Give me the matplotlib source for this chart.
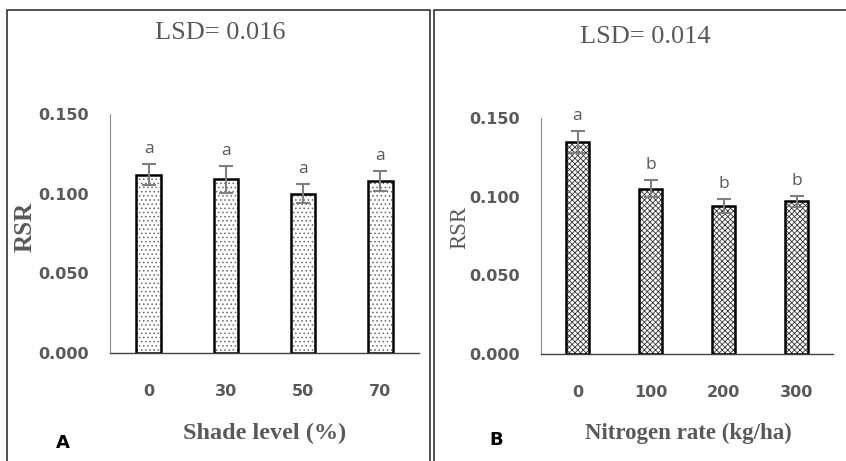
import matplotlib.pyplot as plt
from matplotlib.patches import Rectangle

# panel A: shade level
shade_labels = ['0', '30', '50', '70']
shade_rsr = [0.112, 0.109, 0.100, 0.108]
shade_err = [0.0067, 0.0083, 0.0058, 0.0063]
shade_letters = ['a', 'a', 'a', 'a']

# panel B: nitrogen rate
nitro_labels = ['0', '100', '200', '300']
nitro_rsr = [0.135, 0.105, 0.094, 0.097]
nitro_err = [0.0070, 0.0055, 0.0044, 0.0034]
nitro_letters = ['a', 'b', 'b', 'b']

grey = '#595959'
serif = 'Liberation Serif'

plt.rcParams['hatch.linewidth'] = 0.6


def draw_panel(ax, labels, values, errs, letters, hatch, hatch_color):
    x = range(len(values))
    # hatch layer first, then the black outline on top
    ax.bar(x, values, width=0.32, color='white', edgecolor=hatch_color,
           linewidth=0, hatch=hatch, zorder=2)
    ax.bar(x, values, width=0.32, fill=False, edgecolor='black',
           linewidth=1.8, zorder=2)
    ax.errorbar(x, values, yerr=errs, fmt='none', ecolor='#7f7f7f',
                elinewidth=1.5, capsize=5, capthick=1.5, zorder=3)
    for i, (v, e, t) in enumerate(zip(values, errs, letters)):
        ax.annotate(t, (i, v + e), xytext=(0, 5), textcoords='offset points',
                    ha='center', va='bottom', fontsize=12.5, color=grey,
                    family='Open Sans')
    ax.set_xlim(-0.5, len(values) - 0.5)
    ax.set_ylim(0, 0.150)
    ax.set_yticks([0, 0.05, 0.10, 0.15])
    ax.set_yticklabels(['0.000', '0.050', '0.100', '0.150'])
    ax.set_xticks(list(x))
    ax.set_xticklabels(labels)
    ax.tick_params(length=0, labelsize=11.5, labelcolor=grey, pad=15)
    ax.tick_params(axis='x', pad=22)
    for lab in ax.get_xticklabels() + ax.get_yticklabels():
        lab.set_fontweight('bold')
    ax.spines['top'].set_visible(False)
    ax.spines['right'].set_visible(False)
    ax.spines['left'].set_color('#8c8c8c')
    ax.spines['left'].set_linewidth(0.8)
    ax.spines['bottom'].set_color('#404040')
    ax.spines['bottom'].set_linewidth(1.0)
    ax.set_facecolor('none')


fig = plt.figure(figsize=(8.46, 4.61), dpi=100)

# panel frames
fig.patches.append(Rectangle((7 / 846, -0.05), 423 / 846, 1.05 - 10 / 461,
                             transform=fig.transFigure, fill=False,
                             edgecolor='#333333', linewidth=1.2))
fig.patches.append(Rectangle((434 / 846, -0.05), 0.6, 1.05 - 10 / 461,
                             transform=fig.transFigure, fill=False,
                             edgecolor='#333333', linewidth=1.2))

ax1 = fig.add_axes([110 / 846, 1 - 353 / 461, 309 / 846, 239 / 461])
draw_panel(ax1, shade_labels, shade_rsr, shade_err, shade_letters,
           '....', '#666666')
ax2 = fig.add_axes([541 / 846, 1 - 354 / 461, 292 / 846, 236 / 461])
draw_panel(ax2, nitro_labels, nitro_rsr, nitro_err, nitro_letters,
           'xxxxxx', '#333333')

# titles, axis labels, panel letters
fig.text(220 / 846, 1 - 33 / 461, 'LSD= 0.016', ha='center', va='center',
         fontsize=19, color=grey, family=serif)
fig.text(645 / 846, 1 - 37 / 461, 'LSD= 0.014', ha='center', va='center',
         fontsize=19, color=grey, family=serif)
fig.text(25 / 846, 1 - 227 / 461, 'RSR', rotation=90, ha='center', va='center',
         fontsize=18, color=grey, family=serif, fontweight='bold')
fig.text(460 / 846, 1 - 227 / 461, 'RSR', rotation=90, ha='center', va='center',
         fontsize=16.5, color=grey, family=serif)
fig.text(265 / 846, 1 - 433 / 461, 'Shade level (%)', ha='center', va='center',
         fontsize=17.5, color=grey, family=serif, fontweight='bold')
fig.text(688 / 846, 1 - 433 / 461, 'Nitrogen rate (kg/ha)', ha='center',
         va='center', fontsize=16.5, color=grey, family=serif, fontweight='bold')
fig.text(63 / 846, 1 - 443 / 461, 'A', ha='center', va='center',
         fontsize=13, color='black', fontweight='bold')
fig.text(496 / 846, 1 - 440 / 461, 'B', ha='center', va='center',
         fontsize=13, color='black', fontweight='bold')

fig.savefig('out.png', dpi=100)
